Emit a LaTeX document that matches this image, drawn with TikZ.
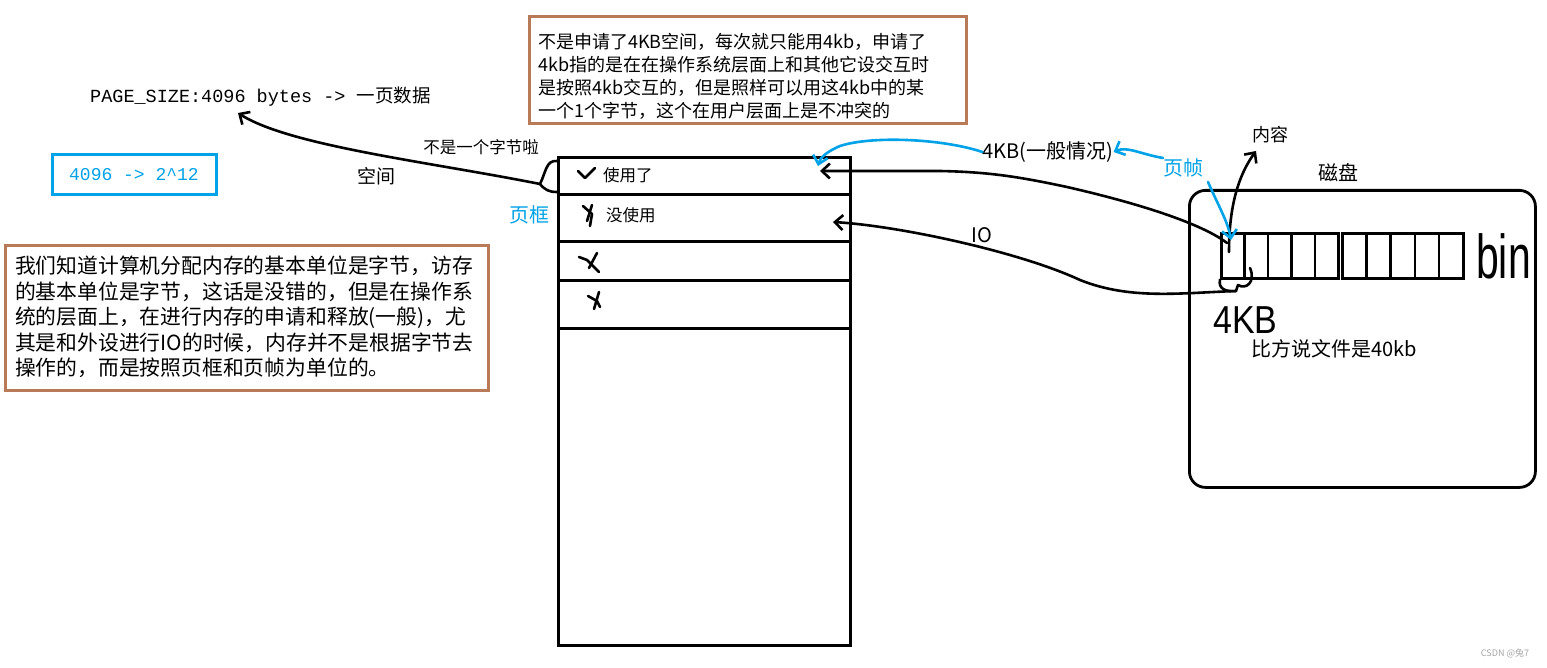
\documentclass[tikz,border=0pt]{standalone}
\usepackage{fontspec}
\setmainfont{Noto Sans CJK SC}
\newfontfamily\monofont{Liberation Mono}
\newfontfamily\handfont{Liberation Sans}
\usepackage{graphicx}
\definecolor{notebrown}{HTML}{B97A57}
\definecolor{penblue}{HTML}{00A2E8}
\usetikzlibrary{
  arrows.meta,
  positioning,
  calc
}

\begin{document}
\begin{tikzpicture}[x=1pt, y=-1pt,
  pen/.style={line width=2.6pt, line cap=round, line join=round},
  penarrow/.style={pen, -{Straight Barb[length=8pt, width=15pt]}},
  bluearrow/.style={pen, draw=penblue, -{Straight Barb[length=8pt, width=15pt]}},
  notebox/.style={draw=notebrown, line width=3pt, anchor=north west, inner sep=0pt},
  notetext/.style={align=left, inner sep=0pt, anchor=north west},
  framecell/.style={draw, line width=3pt, minimum width=292pt, anchor=north west, inner sep=0pt},
  diskcell/.style={draw, line width=2.6pt, minimum height=45pt, anchor=north west, inner sep=0pt},
  cjklabel/.style={inner sep=0pt, font=\fontsize{20}{24}\selectfont},
  smalllabel/.style={inner sep=0pt, font=\fontsize{16.5}{20}\selectfont},
  handtext/.style={inner sep=0pt, font=\handfont}
]
  \fill[white] (0,0) rectangle (1547,668);
  \useasboundingbox (0,0) rectangle (1547,668);

  \node[inner sep=0pt, anchor=west, font=\fontsize{18.5}{22}\selectfont] (pagesize) at (90,97)
    {{\monofont PAGE\_SIZE:4096 bytes -> }一页数据};
  \node[draw=penblue, line width=3pt, minimum width=164pt, minimum height=40pt, inner sep=0pt,
    text=penblue, font=\monofont\fontsize{18}{22}\selectfont] (powerbox) at (134,175)
    {4096 -> 2\textasciicircum12};

  \node[notebox, minimum width=437pt, minimum height=107pt] (reqbox) at (528,15) {};
  \node[notetext, font=\fontsize{18}{23}\selectfont] (reqnote) at (538,33)
    {不是申请了4KB空间，每次就只能用4kb，申请了\\
     4kb指的是在在操作系统层面上和其他它设交互时\\
     是按照4kb交互的，但是照样可以用这4kb中的某\\
     一个1个字节，这个在用户层面上是不冲突的};

  \node[notebox, minimum width=483pt, minimum height=145pt] (unitbox) at (4,244) {};
  \node[notetext, font=\fontsize{20.8}{25.5}\selectfont] (unitnote) at (15,256)
    {我们知道计算机分配内存的基本单位是字节，访存\\
     的基本单位是字节，这话是没错的，但是在操作系\\
     统的层面上，在进行内存的申请和释放(一般)，尤\\
     其是和外设进行IO的时候，内存并不是根据字节去\\
     操作的，而是按照页框和页帧为单位的。};

  \node[framecell, minimum height=37pt] (frameused) at (557,156) {};
  \node[framecell, minimum height=47pt] (framefree) at (557,193) {};
  \node[framecell, minimum height=39pt] (framethree) at (557,240) {};
  \node[framecell, minimum height=48pt] (framefour) at (557,279) {};
  \node[framecell, minimum height=317pt] (framerest) at (557,327) {};
  \node[smalllabel, anchor=west] (usedtext) at (603,175) {使用了};
  \node[smalllabel, anchor=west] (freetext) at (606,215) {没使用};
  \draw[pen] (578,171) -- (585,178) -- (595,168);
  \draw[pen] (583,206) -- (592,214) -- (590,226);
  \draw[pen] (592,205) -- (587,221);
  \draw[pen] (579,257) -- (587,260) -- (599,272);
  \draw[pen] (597,253) -- (589,268);
  \draw[pen] (588,296) -- (597,301) -- (600,307);
  \draw[pen] (599,292) -- (594,309);

  \node[smalllabel] (notbyte) at (481,147) {不是一个字节啦};
  \node[cjklabel, font=\fontsize{19}{22}\selectfont] (spacetext) at (376,176) {空间};
  \node[cjklabel, text=penblue] (frametext) at (529,215) {页框};

  \coordinate (spacebrace) at (540,184);
  \coordinate (pagetip) at (238,113);
  \draw[pen] (557,161) .. controls (546,160) and (546,172) .. (spacebrace)
    .. controls (545,190) and (549,192) .. (557,192);
  \draw[penarrow] (spacebrace) .. controls (430,162) and (290,146) .. (pagetip);

  \node[draw, line width=2.8pt, rounded corners=16pt, minimum width=346pt, minimum height=297pt,
    anchor=north west, inner sep=0pt] (disk) at (1188,189) {};
  \node[cjklabel] (disklabel) at (1338,173) {磁盘};
  \foreach \i in {0,...,4}{
    \node[diskcell, minimum width=23.4pt] (blka\i) at (1220+23.4*\i,232) {};
    \node[diskcell, minimum width=24.2pt] (blkb\i) at (1341+24.2*\i,232) {};
  }
  \node[handtext, anchor=south west] (binlabel) at (1476,279)
    {\fontsize{62}{62}\selectfont\scalebox{0.66}[1]{bin}};
  \node[handtext, anchor=north west] (kblabel) at (1213,306)
    {\fontsize{39}{39}\selectfont\scalebox{0.87}[1]{4KB}};
  \node[cjklabel] (fileexample) at (1334,349) {比方说文件是40kb};

  \node[cjklabel, font=\fontsize{18}{22}\selectfont] (content) at (1270,135) {内容};
  \node[cjklabel, text=penblue] (pagetext) at (1183,168) {页帧};
  \node[cjklabel] (fourkb) at (1048,152) {4KB(一般情况)};
  \node[cjklabel] (iotext) at (982,235) {IO};

  \coordinate (usedtip) at (820,171);
  \coordinate (freetip) at (833,222);
  \coordinate (blockentry) at (1227,243);
  \coordinate (iobrace) at (1236,291);
  \coordinate (bluetip) at (818,166);
  \coordinate (cellstart) at (1229,252);
  \coordinate (pageshoot) at (1208,182);
  \coordinate (celltip) at (1231,240);

  \draw[penarrow] (blockentry) .. controls (1205,226) and (1150,206) .. (1067,187)
    .. controls (1020,177) and (990,172) .. (940,171) -- (usedtip);
  \draw[pen] (blka0.south west) .. controls (1218,289) and (1226,292) .. (iobrace)
    -- (1238,285) .. controls (1246,290) and (1256,282) .. (1250,268);
  \draw[penarrow] (iobrace) .. controls (1180,293) and (1130,300) .. (1080,280)
    .. controls (1020,252) and (900,226) .. (freetip);
  \draw[penarrow] (cellstart) .. controls (1229,215) and (1235,180) .. (1256,151);

  \draw[bluearrow] (fourkb.west) .. controls (940,138) and (870,136) .. (840,146)
    .. controls (826,152) and (820,158) .. (bluetip);
  \draw[bluearrow] (1163,158) .. controls (1140,154) and (1127,146) .. (fourkb.east);
  \draw[bluearrow] (pageshoot) .. controls (1218,205) and (1228,222) .. (celltip);

  \node[inner sep=0pt, font=\fontsize{9}{10}\selectfont, text=gray!70] (watermark) at (1505,653) {CSDN @兔7};
\end{tikzpicture}
\end{document}
